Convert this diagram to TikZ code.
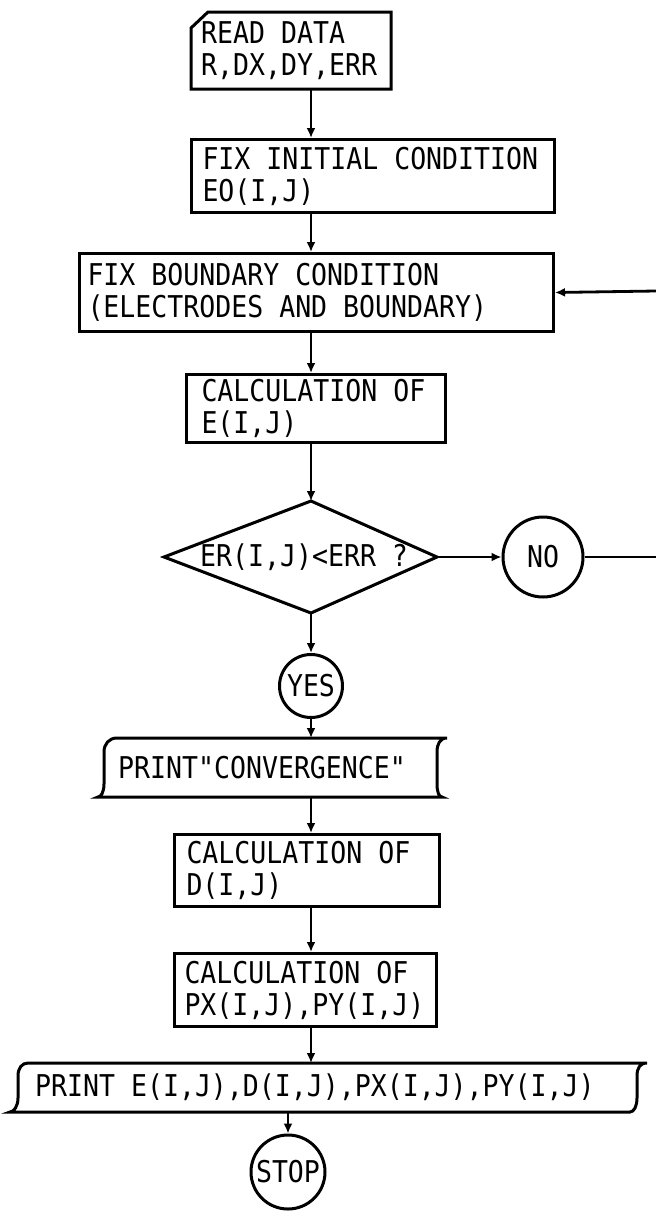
\documentclass[tikz,border=0pt]{standalone}
\usepackage{fontspec}
\newfontfamily\flowfont{DejaVu Sans Mono}[FakeStretch=0.885]
\newcommand\flowsize{\flowfont\fontsize{30pt}{32pt}\selectfont}
\usetikzlibrary{arrows.meta,calc}
\begin{document}
\begin{tikzpicture}[x=1pt,y=-1pt,
  every node/.style={font=\flowsize, execute at begin node={\spaceskip=15.98pt\xspaceskip=15.98pt\relax}},
  outline/.style={draw, line width=3pt, line join=miter},
  boxnode/.style={draw, line width=3pt, anchor=north west, inner ysep=0pt, align=left},
  ghost/.style={anchor=north west, inner ysep=0pt, align=left},
  term/.style={draw, circle, line width=3pt, inner sep=0pt},
  arr/.style={line width=2.8pt, -{Latex[length=10pt,width=9pt]}},
  link/.style={line width=2.8pt}]
\fill[white] (0,0) rectangle (656,1211);
\useasboundingbox (0,0) rectangle (656,1211);
\coordinate (axis) at (311,0);

% read data card
\node[ghost, minimum width=200pt, minimum height=77pt, inner xsep=10pt, text width=180pt] (card) at (191,12) {READ DATA\\R,DX,DY,ERR};
\draw[outline] (191,28) -- (208,12) -- (391,12) -- (391,89) -- (191,89) -- cycle;

\node[boxnode, minimum width=363pt, minimum height=73pt, inner xsep=11pt, text width=341pt] (init) at (190,138) {FIX INITIAL CONDITION\\EO(I,J)};
\node[boxnode, minimum width=474pt, minimum height=78pt, inner xsep=8pt, text width=458pt] (bound) at (78,252) {FIX BOUNDARY CONDITION\\(ELECTRODES AND BOUNDARY)};
\node[boxnode, minimum width=259pt, minimum height=68pt, inner xsep=15pt, text width=229pt] (calcE) at (185,373) {CALCULATION OF\\E(I,J)};

% decision
\coordinate (dL) at (164,557);
\coordinate (dT) at (311,501);
\coordinate (dR) at (437,557);
\coordinate (dB) at (311,613);
\draw[outline] (dL) -- (dT) -- (dR) -- (dB) -- cycle;
\node[anchor=west, inner sep=0pt] (dia) at (200,557) {ER(I,J)<ERR ?};

\node[term, minimum size=80pt] (no) at (543,557) {NO};
\node[term, minimum size=63pt] (yes) at (311,686) {YES};

% print convergence
\node[ghost, minimum width=343pt, minimum height=59pt, inner xsep=14pt, text width=315pt] (conv) at (104,738) {PRINT"CONVERGENCE"};
\draw[outline] (117,738) -- (447,738) .. controls (440,738) and (437,744) .. (437,752) -- (437,784) .. controls (437,792) and (439,797) .. (442,797) -- (98,797) .. controls (101,797) and (104,792) .. (104,784) -- (104,752) .. controls (104,744) and (109,738) .. (117,738) -- cycle;

\node[boxnode, minimum width=265pt, minimum height=72pt, inner xsep=12pt, text width=241pt] (calcD) at (173,833) {CALCULATION OF\\D(I,J)};
\node[boxnode, minimum width=262pt, minimum height=73pt, inner xsep=10pt, text width=242pt] (calcP) at (173,952) {CALCULATION OF\\PX(I,J),PY(I,J)};

% final print
\node[ghost, minimum width=619pt, minimum height=49pt, inner xsep=17pt, text width=585pt] (fin) at (18,1063) {PRINT E(I,J),D(I,J),PX(I,J),PY(I,J)};
\draw[outline] (28,1063) -- (647,1063) .. controls (640,1063) and (637,1068) .. (637,1076) -- (637,1098) .. controls (637,1106) and (634,1112) .. (630,1112) -- (10,1112) .. controls (14,1112) and (18,1106) .. (18,1098) -- (18,1076) .. controls (18,1068) and (22,1063) .. (28,1063) -- cycle;

\node[term, minimum size=74pt] (stop) at (288,1172) {STOP};

% feedback stubs
\coordinate (edgeA) at (656,557);
\coordinate (edgeB) at (656,291);

% connectors
\draw[arr] (card.south -| axis) -- (init.north -| axis);
\draw[arr] (init.south -| axis) -- (bound.north -| axis);
\draw[arr] (bound.south -| axis) -- (calcE.north -| axis);
\draw[arr] (calcE.south -| dT) -- (dT);
\draw[arr] (dB) -- (yes.north);
\draw[arr] (dR) -- (no.west);
\draw[link] (no.east) -- (edgeA);
\draw[arr] (edgeB) -- (bound.east);
\draw[arr] (yes.south) -- (yes.south |- conv.north);
\draw[arr] (conv.south -| axis) -- (calcD.north -| axis);
\draw[arr] (calcD.south -| axis) -- (calcP.north -| axis);
\draw[arr] (calcP.south -| axis) -- (fin.north -| axis);
\draw[arr] (fin.south -| stop) -- (stop.north);
\end{tikzpicture}
\end{document}
